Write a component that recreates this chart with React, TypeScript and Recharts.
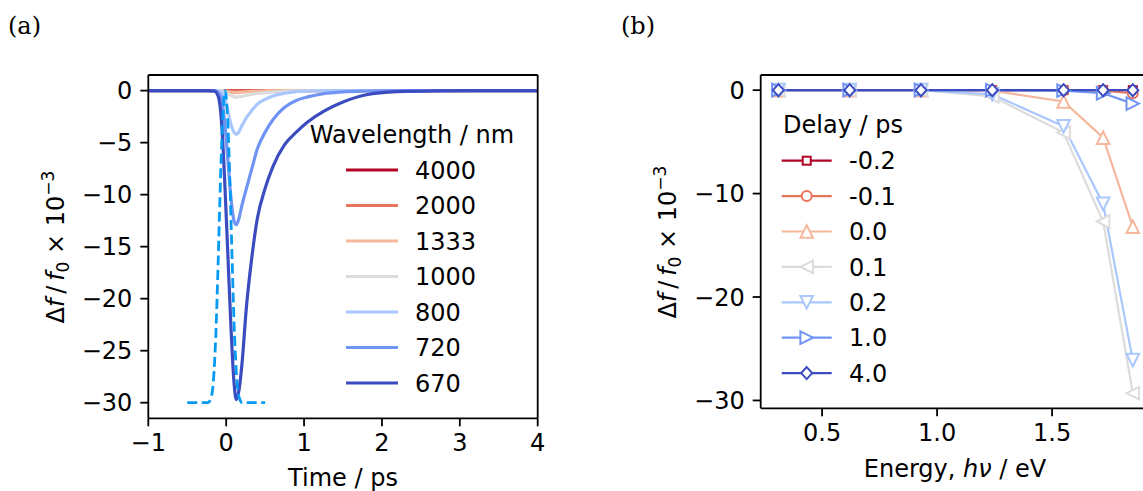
import React from "react";
import { LineChart, Line, XAxis, YAxis, ReferenceLine, Legend } from "recharts";

const FONT = "'DejaVu Sans', sans-serif";
const SERIF = "'DejaVu Serif', serif";
const FS = 24;

// ---- panel (a): transient traces vs time ----
const timePs = [
  -1, -0.5, -0.25, -0.15, -0.1, -0.06, -0.02, 0.02, 0.06, 0.1, 0.13, 0.16, 0.2, 0.26,
  0.33, 0.4, 0.5, 0.6, 0.75, 0.9, 1.05, 1.25, 1.5, 1.8, 2.2, 2.7, 3.2, 4,
];
const wavelengths = ["4000", "2000", "1333", "1000", "800", "720", "670"];
const wl4000 = [0, 0, 0, 0, 0, 0, 0, -0.01, -0.01, -0.015, -0.015, -0.015, -0.01, -0.01, -0.005, 0, 0, 0, 0, 0, 0, 0, 0, 0, 0, 0, 0, 0];
const wl2000 = [0, 0, 0, 0, 0, 0, -0.01, -0.02, -0.04, -0.05, -0.05, -0.05, -0.04, -0.03, -0.02, -0.015, -0.01, -0.005, 0, 0, 0, 0, 0, 0, 0, 0, 0, 0];
const wl1333 = [0, 0, 0, 0, 0, -0.01, -0.04, -0.1, -0.16, -0.2, -0.2, -0.18, -0.15, -0.11, -0.08, -0.06, -0.04, -0.02, -0.01, 0, 0, 0, 0, 0, 0, 0, 0, 0];
const wl1000 = [0, 0, 0, 0, 0, -0.03, -0.12, -0.3, -0.48, -0.6, -0.62, -0.6, -0.55, -0.45, -0.36, -0.28, -0.2, -0.14, -0.08, -0.05, -0.03, -0.01, 0, 0, 0, 0, 0, 0];
const wl800 = [0, 0, 0, 0, -0.05, -0.15, -0.7, -1.9, -3.2, -4.0, -4.2, -4.0, -3.4, -2.6, -1.9, -1.3, -0.85, -0.52, -0.25, -0.1, -0.04, 0, 0, 0, 0, 0, 0, 0];
const wl720 = [0, 0, 0, 0, -0.2, -0.8, -3.0, -6.5, -10.2, -12.5, -12.9, -12.4, -11.1, -9.4, -7.5, -5.6, -4.0, -2.8, -1.6, -0.95, -0.6, -0.3, -0.12, -0.04, 0, 0, 0, 0];
const wl670 = [0, 0, 0, -0.05, -0.6, -3.0, -8.5, -15.5, -22.5, -28.0, -29.7, -29.0, -26.5, -20.8, -16.0, -12.3, -9.4, -7.3, -5.2, -4.0, -3.0, -2.0, -1.1, -0.4, -0.1, -0.02, 0, 0];
const traceValues = [wl4000, wl2000, wl1333, wl1000, wl800, wl720, wl670];
const seriesColors = ["#b40426", "#e7745b", "#f6b89d", "#dcdcdc", "#aac7fd", "#7094f3", "#3b4cc0"];

// pump pulse profile (dashed)
const pumpTime = [-0.5, -0.3, -0.233, -0.193, -0.163, -0.133, -0.103, -0.073, -0.043, -0.013, 0.017, 0.047, 0.077, 0.107, 0.137, 0.167, 0.207, 0.3, 0.5];
const pumpValue = [-30, -30, -30, -29.5, -27.8, -23.5, -16.5, -8.5, -2.5, 0, -2.5, -8.5, -16.5, -23.5, -27.8, -29.5, -30, -30, -30];

const timeTicks = [-1, 0, 1, 2, 3, 4];
const yTicksA = [0, -5, -10, -15, -20, -25, -30];

// ---- panel (b): spectra vs photon energy ----
const energyEv = [0.31, 0.62, 0.93, 1.24, 1.55, 1.722, 1.851];
const delays = ["-0.2", "-0.1", "0.0", "0.1", "0.2", "1.0", "4.0"];
const delayM02 = [0, 0, 0, 0, 0, 0, 0];
const delayM01 = [0, 0, 0, 0, 0, -0.05, -0.3];
const delay00 = [0, 0, 0, -0.05, -1.1, -4.6, -13.2];
const delay01 = [0, 0, 0, -0.6, -4.1, -12.7, -29.3];
const delay02 = [0, 0, 0, -0.4, -3.5, -11.0, -26.1];
const delay10 = [0, 0, 0, 0, -0.05, -0.3, -1.3];
const delay40 = [0, 0, 0, 0, 0, 0, 0];
const spectraValues = [delayM02, delayM01, delay00, delay01, delay02, delay10, delay40];
const delayMarkers = ["square", "circle", "triUp", "triLeft", "triDown", "triRight", "diamond"];

const energyTicks = [0.5, 1.0, 1.5];
const yTicksB = [0, -10, -20, -30];

const traceRows = timePs.map((t, i) => {
  const row: any = { t };
  wavelengths.forEach((w, k) => (row["w" + w] = traceValues[k][i]));
  return row;
});
const pumpRows = pumpTime.map((t, i) => ({ t, pump: pumpValue[i] }));
const spectraRows = energyEv.map((e, i) => {
  const row: any = { e };
  delays.forEach((_, k) => (row["d" + k] = spectraValues[k][i]));
  return row;
});

const fmtTick = (v: number) => (v < 0 ? "\u2212" + String(-v) : String(v));

const tickStyle = { fill: "#000", fontSize: FS, fontFamily: FONT };
const axisStroke = { stroke: "#000", strokeWidth: 1.8 };

function Marker({ shape, cx, cy, color }: any) {
  const s = 6.3;
  const p = { fill: "#fff", stroke: color, strokeWidth: 2 };
  switch (shape) {
    case "square":
      return <rect x={cx - 4} y={cy - 4} width={8} height={8} {...p} />;
    case "circle":
      return <circle cx={cx} cy={cy} r={5} {...p} />;
    case "triUp":
      return <polygon points={`${cx},${cy - s} ${cx - s},${cy + s} ${cx + s},${cy + s}`} {...p} />;
    case "triDown":
      return <polygon points={`${cx},${cy + s} ${cx - s},${cy - s} ${cx + s},${cy - s}`} {...p} />;
    case "triLeft":
      return <polygon points={`${cx - s},${cy} ${cx + s},${cy - s} ${cx + s},${cy + s}`} {...p} />;
    case "triRight":
      return <polygon points={`${cx + s},${cy} ${cx - s},${cy - s} ${cx - s},${cy + s}`} {...p} />;
    default:
      return <polygon points={`${cx},${cy - 6} ${cx + 5.5},${cy} ${cx},${cy + 6} ${cx - 5.5},${cy}`} {...p} />;
  }
}

function WavelengthLegend() {
  return (
    <svg width={240} height={310} style={{ overflow: "visible" }}>
      <text x={112} y={43} textAnchor="middle" fontFamily={FONT} fontSize={FS}>
        Wavelength / nm
      </text>
      {wavelengths.map((w, i) => {
        const cy = 70 + i * 35.5;
        return (
          <g key={w}>
            <line x1={46} x2={98} y1={cy} y2={cy} stroke={seriesColors[i]} strokeWidth={3.2} />
            <text x={115} y={cy + 8.7} fontFamily={FONT} fontSize={FS}>
              {w}
            </text>
          </g>
        );
      })}
    </svg>
  );
}

function DelayLegend() {
  return (
    <svg width={200} height={300} style={{ overflow: "visible" }}>
      <text x={83} y={33} textAnchor="middle" fontFamily={FONT} fontSize={FS}>
        Delay / ps
      </text>
      {delays.map((d, i) => {
        const cy = 60.7 + i * 35.4;
        return (
          <g key={d}>
            <line x1={21.7} x2={71.7} y1={cy} y2={cy} stroke={seriesColors[i]} strokeWidth={2.2} />
            <Marker shape={delayMarkers[i]} cx={46.7} cy={cy} color={seriesColors[i]} />
            <text x={89} y={cy + 8.6} fontFamily={FONT} fontSize={FS}>
              {d}
            </text>
          </g>
        );
      })}
    </svg>
  );
}

function YLabel({ x, y }: { x: number; y: number }) {
  return (
    <text transform={`translate(${x},${y}) rotate(-90)`} textAnchor="middle" fontFamily={FONT} fontSize={FS}>
      Δ<tspan fontStyle="italic">f</tspan>
      {"\u2009/\u2009"}
      <tspan fontStyle="italic">f</tspan>
      <tspan dy={5} fontSize={17}>0</tspan>
      <tspan dy={-5}>{" × 10"}</tspan>
      <tspan dy={-10} fontSize={17}>−3</tspan>
    </text>
  );
}

export default function App() {
  return (
    <div
      style={{
        position: "absolute",
        left: 0,
        top: 0,
        width: 1143,
        height: 491,
        overflow: "hidden",
        background: "#fff",
      }}
    >
      <div style={{ position: "absolute", left: 0, top: 0 }}>
        <LineChart width={580} height={491} margin={{ top: 75, right: 42.3, bottom: 32.7, left: 48.3 }}>
          <XAxis
            dataKey="t"
            type="number"
            domain={[-1, 4]}
            allowDataOverflow
            ticks={timeTicks}
            tickFormatter={fmtTick}
            interval={0}
            height={40}
            tick={tickStyle}
            tickSize={8}
            tickMargin={8}
            axisLine={axisStroke}
            tickLine={axisStroke}
          />
          <YAxis
            type="number"
            domain={[-31.5, 1.5]}
            allowDataOverflow
            ticks={yTicksA}
            tickFormatter={fmtTick}
            interval={0}
            width={100}
            tick={tickStyle}
            tickSize={8}
            tickMargin={8}
            axisLine={axisStroke}
            tickLine={axisStroke}
          />
          {wavelengths.map((w, i) => (
            <Line
              key={w}
              data={traceRows}
              dataKey={"w" + w}
              name={w}
              type="monotone"
              stroke={seriesColors[i]}
              strokeWidth={3.2}
              dot={false}
              activeDot={false}
              isAnimationActive={false}
            />
          ))}
          <Line
            data={pumpRows}
            dataKey="pump"
            type="monotone"
            stroke="#069af3"
            strokeWidth={2.8}
            strokeDasharray="10 4.5"
            dot={false}
            activeDot={false}
            isAnimationActive={false}
            legendType="none"
          />
          <ReferenceLine y={1.5} stroke="#000" strokeWidth={1.8} />
          <ReferenceLine x={4} stroke="#000" strokeWidth={1.8} />
          <Legend
            layout="vertical"
            align="center"
            verticalAlign="middle"
            content={() => <WavelengthLegend />}
            wrapperStyle={{ left: 300, top: 100, width: 240, height: 310 }}
          />
        </LineChart>
      </div>

      <div style={{ position: "absolute", left: 600, top: 0 }}>
        <LineChart
          width={560}
          height={491}
          data={spectraRows}
          margin={{ top: 75, right: 9.5, bottom: 42.7, left: 60.7 }}
        >
          <XAxis
            dataKey="e"
            type="number"
            domain={[0.233, 1.928]}
            allowDataOverflow
            ticks={energyTicks}
            tickFormatter={(v: number) => v.toFixed(1)}
            interval={0}
            height={40}
            tick={tickStyle}
            tickSize={8}
            tickMargin={8}
            axisLine={axisStroke}
            tickLine={axisStroke}
          />
          <YAxis
            type="number"
            domain={[-30.76, 1.465]}
            allowDataOverflow
            ticks={yTicksB}
            tickFormatter={fmtTick}
            interval={0}
            width={100}
            tick={tickStyle}
            tickSize={8}
            tickMargin={8}
            axisLine={axisStroke}
            tickLine={axisStroke}
          />
          {delays.map((d, i) => (
            <Line
              key={d}
              dataKey={"d" + i}
              name={d}
              type="linear"
              stroke={seriesColors[i]}
              strokeWidth={2.2}
              dot={(p: any) => (
                <Marker key={`m${i}-${p.index}`} shape={delayMarkers[i]} cx={p.cx} cy={p.cy} color={seriesColors[i]} />
              )}
              activeDot={false}
              isAnimationActive={false}
            />
          ))}
          <ReferenceLine y={1.465} stroke="#000" strokeWidth={1.8} />
          <Legend
            layout="vertical"
            align="center"
            verticalAlign="middle"
            content={() => <DelayLegend />}
            wrapperStyle={{ left: 160, top: 100, width: 200, height: 300 }}
          />
        </LineChart>
      </div>

      <svg
        width={1143}
        height={491}
        style={{ position: "absolute", left: 0, top: 0, pointerEvents: "none" }}
      >
        <text x={8} y={34} fontFamily={SERIF} fontSize={FS}>
          (a)
        </text>
        <text x={621} y={34} fontFamily={SERIF} fontSize={FS}>
          (b)
        </text>
        <text x={343} y={486} textAnchor="middle" fontFamily={FONT} fontSize={FS}>
          Time / ps
        </text>
        <text x={955} y={477} textAnchor="middle" fontFamily={FONT} fontSize={FS}>
          Energy, <tspan fontStyle="italic">h</tspan>
          <tspan fontStyle="italic">ν</tspan> / eV
        </text>
        <YLabel x={64} y={247} />
        <YLabel x={676} y={242} />
      </svg>
    </div>
  );
}
